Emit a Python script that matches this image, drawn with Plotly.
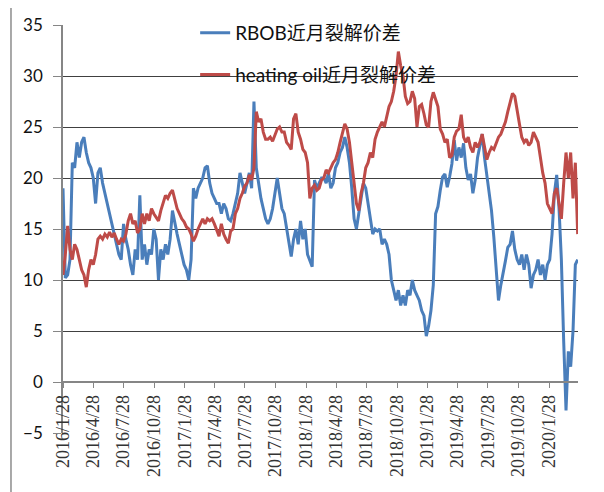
import plotly.graph_objects as go
import pandas as pd

# ---- data (weekly readings from the reference chart) ----
start_date = "2016-01-28"

rbob = [19, 10.2, 10.5, 12, 21.5, 21, 23.5, 22, 23.5, 24,
        22.5, 21.5, 21, 20, 17.5, 20.5, 21, 19.5, 18.5, 17.5,
        16.5, 15.5, 14.5, 13.5, 12.5, 12, 15.5, 14, 13, 11.5,
        10.5, 13, 12, 18.3, 12, 13.5, 11.5, 13, 12.5, 15,
        14, 10, 13, 12, 13.5, 12.5, 14, 16.8, 15.5, 14.5,
        13.5, 12.5, 11.5, 11, 10, 12, 19, 18, 19, 19.5,
        20, 21, 21.2, 19.5, 18.5, 18, 17.5, 17.5, 16.5, 17.5,
        17, 16, 15.8, 16.5, 17.5, 18.5, 20.5, 19.5, 18.5, 19.5,
        20.5, 19, 27.5, 21, 19.5, 18, 17, 16, 15.5, 16,
        17, 18.5, 20, 18.5, 17, 16.5, 15, 13.5, 12.3, 14,
        15, 13.5, 15.8, 14, 15, 12.5, 11.8, 11.3, 19.8, 19,
        19.5, 20, 20, 19.5, 20.5, 19, 19.5, 21, 21.5, 22.5,
        23, 24, 23, 21.5, 19, 16, 15, 16.5, 18, 19.5,
        19, 17.5, 16, 14.5, 15, 14.8, 15, 13.5, 14, 13.5,
        12.5, 10, 9, 8, 9, 7.5, 8.5, 7.5, 9, 8.5,
        10, 9, 8.5, 8, 7, 6.5, 4.5, 5.5, 7, 9.5,
        16.5, 17.2, 18.8, 20.1, 20.4, 19.1, 20.1, 21.4, 23.7, 21.7,
        23, 22, 23.4, 21, 19.8, 20.4, 18.5, 19.8, 22, 23,
        24.3, 22, 20.1, 18.8, 16.8, 14.2, 10.6, 8, 9.5, 10.6,
        11.9, 13.2, 13.5, 14.8, 13, 12, 11.5, 12.5, 11, 12.5,
        11.5, 9.2, 10.5, 11, 12, 10.5, 11.5, 10, 11.5, 12,
        14.5, 18.5, 20.3, 17, 12, 4, -2.8, 3, 1.5, 5,
        11.5, 12]

heating_oil = [10.5, 12.5, 15.3, 13, 12, 13.5, 13, 12, 11, 10.5,
               9.3, 11, 12, 11.5, 12.5, 14, 14.3, 14, 14.5, 14.2,
               14.7, 14.2, 14.6, 14, 13.5, 14, 13.8, 14.5, 15.8, 16.5,
               15.5, 15.8, 14.6, 15, 16.5, 15.5, 16.5, 15.8, 17, 16.5,
               16.2, 15.8, 16.8, 17.5, 18.3, 18, 18.5, 18.8, 18, 17,
               16.5, 16, 15.7, 15.2, 15, 14.5, 13.8, 14.3, 15, 15.5,
               16, 15.5, 16, 15.8, 16, 15.5, 14.8, 14.3, 15.5, 14.5,
               14, 13.6, 14.8, 15, 16.5, 17, 18, 18.5, 19.2, 19.5,
               20.3, 19.8, 21, 26.5, 25.5, 25.8, 24.5, 23.8, 23.8, 24,
               23.6, 24.2, 24.8, 25, 24.5, 24.5, 23.5, 23.2, 22.8, 25.8,
               26.3, 24.5, 23.8, 22.8, 22.5, 21.5, 18, 19, 19.3, 18.8,
               19, 19.8, 20, 20.8, 20.5, 21, 21.5, 21.8, 22.5, 23.5,
               24.5, 25.3, 24.8, 23.5, 21.5, 19.5, 17.5, 16.8, 18.5, 19.5,
               21, 21.5, 22.5, 22, 23.8, 24.5, 25, 25.5, 25, 26,
               27, 27.5, 28.5, 30, 32.4, 31, 30, 28, 27.3, 27.5,
               28.5, 27.8, 25, 27, 27.2, 26.3, 25.2, 25, 27.5, 28.4,
               27.8, 27, 24.8, 24.3, 23.5, 23.8, 22, 22.2, 24, 24.6,
               24.8, 26.2, 24, 23.5, 24, 23, 22.5, 23.5, 23, 23.5,
               24.3, 23, 21.8, 22.5, 23, 22.8, 23.5, 24, 24.3, 25,
               25.5, 26.5, 27.3, 28.3, 28, 26.5, 25.3, 24, 23.5, 23.8,
               23.2, 23.5, 24.5, 24, 23.5, 22, 20.5, 19.5, 17.5, 17,
               16.5, 18.5, 19, 17.5, 16, 19.5, 22.5, 20, 22.5, 18,
               21.5, 14.5]

tick_dates = ["2016-01-28", "2016-04-28", "2016-07-28", "2016-10-28",
              "2017-01-28", "2017-04-28", "2017-07-28", "2017-10-28",
              "2018-01-28", "2018-04-28", "2018-07-28", "2018-10-28",
              "2019-01-28", "2019-04-28", "2019-07-28", "2019-10-28",
              "2020-01-28"]
tick_labels = ["2016/1/28", "2016/4/28", "2016/7/28", "2016/10/28",
               "2017/1/28", "2017/4/28", "2017/7/28", "2017/10/28",
               "2018/1/28", "2018/4/28", "2018/7/28", "2018/10/28",
               "2019/1/28", "2019/4/28", "2019/7/28", "2019/10/28",
               "2020/1/28"]
series_names = ["RBOB近月裂解价差", "heating oil近月裂解价差"]

dates = pd.date_range(start_date, periods=len(rbob), freq="7D")

fig = go.Figure()
fig.add_trace(go.Scatter(x=dates, y=rbob, mode="lines", name=series_names[0],
                         legendgroup="a",
                         line=dict(color="#4A7EBB", width=3)))
fig.add_trace(go.Scatter(x=dates, y=heating_oil, mode="lines", name=series_names[1],
                         legendgroup="b",
                         line=dict(color="#BE4B48", width=3)))

axis_gray = "#868686"
fig.update_layout(
    width=596, height=484,
    margin=dict(l=55, r=26, t=0, b=59, autoexpand=False),
    paper_bgcolor="white", plot_bgcolor="white",
    showlegend=True,
    legend=dict(x=0.2566, y=0.986, xanchor="left", yanchor="top",
                bgcolor="rgba(0,0,0,0)", tracegroupgap=14,
                font=dict(family="Lato, Noto Sans CJK SC", size=19, color="#111")),
    xaxis=dict(type="date", range=["2016-01-28", "2020-04-24"],
               tickvals=tick_dates, ticktext=tick_labels, tickangle=-90,
               anchor="free", position=0.12, automargin=False,
               showline=True, linecolor=axis_gray, linewidth=1.5,
               ticks="outside", ticklen=5, tickcolor=axis_gray, tickwidth=1,
               showgrid=False, zeroline=False,
               tickfont=dict(family="Liberation Serif", size=18, color="#333")),
    yaxis=dict(range=[-5, 35], tick0=0, dtick=5, domain=[0, 0.96], automargin=False,
               showgrid=True, gridcolor="#404040", gridwidth=1,
               zeroline=False, showline=True, linecolor=axis_gray, linewidth=1.5,
               ticks="outside", ticklen=8, tickcolor=axis_gray, tickwidth=1,
               ticklabelstandoff=7,
               tickfont=dict(family="Lato", size=17, color="#111")),
    shapes=[dict(type="line", xref="paper", yref="paper",
                 x0=-0.101, x1=-0.101, y0=-0.2, y1=1.1,
                 line=dict(color="#8c8c8c", width=1.5), layer="below"),
            dict(type="line", xref="paper", yref="paper",
                 x0=1.0485, x1=1.0485, y0=-0.2, y1=1.1,
                 line=dict(color="#8c8c8c", width=1.5), layer="below")],
)

fig.write_html("out.html")
